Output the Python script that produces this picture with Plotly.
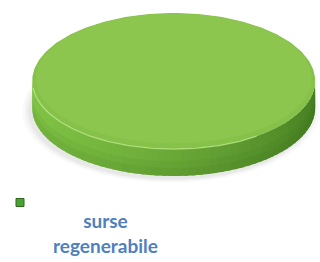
import numpy as np
import plotly.graph_objects as go

categories = ["surse regenerabile"]
values = [100]
colors_top = ["#8cc64f"]

W, H = 320, 262
cx, cy, rx, ry, depth = 167, 81, 148, 68, 27

fig = go.Figure()
total = sum(values)

def ell(t, dy=0, sx=1.0, sy=1.0, dx=0):
    return cx + dx + rx * sx * np.cos(t), cy + ry * sy * np.sin(t) + dy

# soft shadow
t = np.linspace(0, 2 * np.pi, 200)
for k, op in [(1.05, 0.04), (1.03, 0.05), (1.01, 0.07)]:
    x, y = ell(t, depth + 3, k, k, dx=-3)
    fig.add_trace(go.Scatter(x=x, y=y, fill="toself", mode="lines", line=dict(width=0),
                             fillcolor=f"rgba(110,110,110,{op})", hoverinfo="skip", showlegend=False))

start = -np.pi / 2
for cat, v, ct in zip(categories, values, colors_top):
    ang = 2 * np.pi * v / total
    a0, a1 = start, start + ang
    lo, hi = max(a0, 0.0), min(a1, np.pi)
    if hi > lo:
        n = 60
        edges = np.linspace(lo, hi, n + 1)
        left = np.array([0x80, 0xc3, 0x45])
        right = np.array([0x46, 0x7e, 0x22])
        step = (hi - lo) / n
        for i in range(n):
            e0 = edges[i]
            e1 = min(edges[i + 1] + step * 0.6, hi)
            tt = np.linspace(e0, e1, 5)
            xt, yt = ell(tt)
            xb, yb = ell(tt[::-1], depth)
            mid = 0.5 * (edges[i] + edges[i + 1])
            f = (1 - np.cos(mid)) / 2
            c = right + (left - right) * f ** 0.7
            col = "rgb(%d,%d,%d)" % tuple(c)
            fig.add_trace(go.Scatter(x=np.r_[xt, xb], y=np.r_[yt, yb], fill="toself", mode="lines",
                                     line=dict(width=0), fillcolor=col,
                                     hoverinfo="skip", showlegend=False))
        for frac, op in [(0.45, 0.06), (0.7, 0.07)]:
            tt = np.linspace(lo, hi, 200)
            xt, yt = ell(tt, depth * frac)
            xb, yb = ell(tt[::-1], depth)
            fig.add_trace(go.Scatter(x=np.r_[xt, xb], y=np.r_[yt, yb], fill="toself", mode="lines",
                                     line=dict(width=0), fillcolor=f"rgba(40,80,10,{op})",
                                     hoverinfo="skip", showlegend=False))
    tt = np.linspace(a0, a1, 300)
    xt, yt = ell(tt)
    fig.add_trace(go.Scatter(x=np.r_[cx, xt, cx], y=np.r_[cy, yt, cy], fill="toself", mode="lines",
                             line=dict(width=0), fillcolor="#86c24a", name=cat,
                             hoverinfo="name", showlegend=False))
    xt, yt = ell(tt, -2.5, 0.975, 0.955)
    fig.add_trace(go.Scatter(x=xt, y=yt, fill="toself", mode="lines",
                             line=dict(width=0), fillcolor=ct, hoverinfo="skip", showlegend=False))
    th = np.linspace(max(a0, 0.3 * np.pi), min(a1, 0.97 * np.pi), 120)
    xh, yh = ell(th, 0.5, 0.998, 0.995)
    fig.add_trace(go.Scatter(x=xh, y=yh, mode="lines", line=dict(width=1.3, color="rgba(185,232,135,0.75)"),
                             hoverinfo="skip", showlegend=False))
    fig.add_trace(go.Scatter(x=[None], y=[None], mode="markers", name="",
                             marker=dict(symbol="square", size=8, color="#4aa030",
                                         line=dict(width=1, color="#2c6a1a")),
                             showlegend=True))
    start = a1

fig.add_annotation(x=96, y=233, xref="x", yref="y", xanchor="center", yanchor="middle",
                   text="surse<br>regenerabile", showarrow=False,
                   font=dict(family="Lato", size=19, color="#4f7fbf", weight="bold"),
                   align="center")

fig.update_layout(
    width=W, height=H, margin=dict(l=0, r=0, t=0, b=0),
    paper_bgcolor="white", plot_bgcolor="white",
    xaxis=dict(range=[0, W], visible=False, fixedrange=True),
    yaxis=dict(range=[H, 0], visible=False, fixedrange=True),
    legend=dict(x=-15 / W, y=1 - 188 / H, xanchor="left", yanchor="top", bgcolor="rgba(0,0,0,0)",
                font=dict(size=10), itemwidth=30),
    showlegend=True,
)

fig.write_html("out.html", config={"displayModeBar": False},
               post_script="document.body.style.margin='0';document.body.style.overflow='hidden';")
